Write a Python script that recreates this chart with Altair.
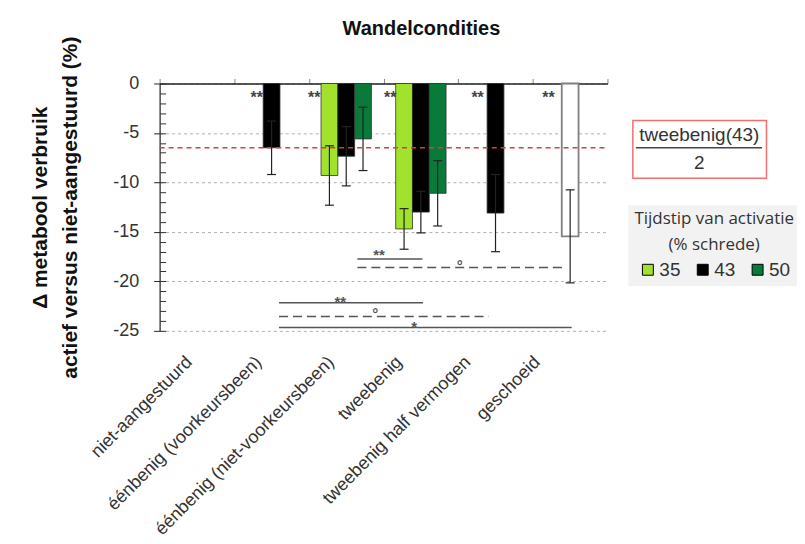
import json
import altair as alt
import pandas as pd

# ---------------- data ----------------
categories = ["niet-aangestuurd", "éénbenig (voorkeursbeen)", "éénbenig (niet-voorkeursbeen)",
              "tweebenig", "tweebenig half vermogen", "geschoeid"]
# where each category label is anchored along the x axis (as in the reference layout)
label_pos = [0.31, 1.24, 2.21, 3.12, 4.04, 4.97]
series_names = ["35", "43", "50"]
series_colors = ["#a3e22c", "#000000", "#0a7a3a"]

bar_cat = [1, 2, 2, 2, 3, 3, 3, 4]
bar_series = ["43", "35", "43", "50", "35", "43", "50", "43"]
bar_value = [-6.5, -9.3, -7.35, -5.6, -14.7, -13.0, -11.1, -13.1]
bar_error = [2.7, 3.0, 3.0, 3.2, 2.05, 2.1, 3.3, 3.9]

shod_cat = [5]
shod_value = [-15.45]
shod_error = [4.7]

star_x = [1.30, 2.07, 3.09, 4.26, 5.21]
star_y = [-1.0, -1.0, -1.0, -1.0, -1.0]
star_text = ["**", "**", "**", "**", "**"]

sig_x1 = [2.65, 2.65, 1.60, 1.60, 1.60]
sig_x2 = [3.52, 5.40, 3.53, 4.41, 5.52]
sig_y = [-17.75, -18.6, -22.15, -23.55, -24.65]
sig_dashed = [False, True, False, True, False]
sig_label = ["**", "°", "**", "°", "*"]
sig_label_x = [2.94, 4.02, 2.42, 2.89, 3.41]
sig_label_y = [-16.9, -18.0, -21.7, -22.9, -24.2]

ref_value = bar_value[5] / 2  # tweebenig(43) / 2

box_x = [6.34, 8.13]
box_y = [-3.73, -9.58]
frac_x = 7.23
frac_num = "tweebenig(43)"
frac_num_y = -5.2
frac_den = "2"
frac_den_y = -8.06
frac_line_x = [6.38, 8.07]

# ---------------- frames ----------------
OFF = {"35": -0.225, "43": 0.0, "50": 0.225}
W = 0.225
CAP = 0.06

bars = pd.DataFrame({"cat": bar_cat, "series": bar_series, "value": bar_value, "err": bar_error})
bars["xc"] = bars["cat"] + 0.5 + bars["series"].map(OFF)
bars["x0"] = bars["xc"] - W / 2
bars["x1"] = bars["xc"] + W / 2
bars["lo"] = bars["value"] - bars["err"]
bars["hi"] = bars["value"] + bars["err"]

shod = pd.DataFrame({"cat": shod_cat, "value": shod_value, "err": shod_error})
shod["xc"] = shod["cat"] + 0.5
shod["x0"] = shod["xc"] - W / 2
shod["x1"] = shod["xc"] + W / 2
shod["lo"] = shod["value"] - shod["err"]
shod["hi"] = shod["value"] + shod["err"]

err = pd.concat([bars[["xc", "lo", "hi"]], shod[["xc", "lo", "hi"]]], ignore_index=True)
caps = pd.concat([
    pd.DataFrame({"c0": err["xc"] - CAP, "c1": err["xc"] + CAP, "y": err["lo"]}),
    pd.DataFrame({"c0": err["xc"] - CAP, "c1": err["xc"] + CAP, "y": err["hi"]}),
], ignore_index=True)

stars = pd.DataFrame({"x": star_x, "y": star_y, "t": star_text})
sig = pd.DataFrame({"x1": sig_x1, "x2": sig_x2, "y": sig_y, "dashed": sig_dashed})
sig_lab = pd.DataFrame({"x": sig_label_x, "y": sig_label_y, "t": sig_label})
refl = pd.DataFrame({"x0": [0], "x1": [len(categories)], "y": [ref_value]})
box = pd.DataFrame({"x0": [box_x[0]], "x1": [box_x[1]], "y0": [box_y[0]], "y1": [box_y[1]]})
frac = pd.DataFrame({"x": [frac_x, frac_x], "y": [frac_num_y, frac_den_y], "t": [frac_num, frac_den]})
fracl = pd.DataFrame({"x0": [frac_line_x[0]], "x1": [frac_line_x[1]], "y": [ref_value]})

FONT = "Liberation Sans"
xscale = alt.Scale(domain=[0, len(categories)], nice=False, zero=False)
yscale = alt.Scale(domain=[-25, 0], nice=False, zero=False)
NOAX = None

label_expr = "%s[indexof(%s, datum.value)]" % (json.dumps(categories, ensure_ascii=False),
                                               json.dumps(label_pos))

# bars (main axes)
bar_layer = alt.Chart(bars).mark_bar(stroke="#333333", strokeWidth=0.8).encode(
    x=alt.X("x0:Q", scale=xscale, axis=alt.Axis(
        orient="bottom", values=label_pos, labelExpr=label_expr,
        domain=False, ticks=False, grid=False, labelAngle=-45, labelFont=FONT, labelFontSize=18,
        labelColor="#333333", labelPadding=22, labelLimit=0, labelOverlap=False, title=None)),
    x2="x1:Q",
    y=alt.Y("value:Q", scale=yscale, axis=alt.Axis(
        values=[0, -5, -10, -15, -20, -25], labelExpr="toString(datum.value)",
        grid=True, gridDash=[3, 3], gridColor="#b0b0b0", gridWidth=1,
        domainColor="#222222", domainWidth=1.2, tickColor="#222222", tickSize=6,
        labelFont=FONT, labelFontSize=18, labelColor="#333333", labelPadding=15,
        title=["\u0394 metabool verbruik", "actief versus niet-aangestuurd (%)"],
        titleFont=FONT, titleFontSize=21, titleFontWeight="bold", titleColor="#111111",
        titleLineHeight=30, titlePadding=32)),
    y2=alt.datum(0),
    color=alt.Color("series:N", scale=alt.Scale(domain=series_names, range=series_colors),
                    legend=alt.Legend(
                        title=["Tijdstip van activatie", "(% schrede)"], orient="none",
                        legendX=470, legendY=122, direction="horizontal",
                        titleFont="Open Sans", titleFontSize=17, titleFontWeight="normal",
                        titleColor="#333333", titleAnchor="middle", titleAlign="center",
                        titleLineHeight=26, titlePadding=6,
                        labelFont=FONT, labelFontSize=19, labelColor="#333333", labelOffset=2,
                        symbolType="square", symbolSize=120, symbolStrokeColor="#000000",
                        symbolStrokeWidth=1, columnPadding=12,
                        fillColor="#f2f2f2", padding=6)),
)

shod_layer = alt.Chart(shod).mark_bar(fill="white", stroke="#808080", strokeWidth=1.8).encode(
    x=alt.X("x0:Q", scale=xscale, axis=NOAX), x2="x1:Q",
    y=alt.Y("value:Q", scale=yscale, axis=NOAX), y2=alt.datum(0),
)

# red reference line (carries the top x axis and the minor y ticks)
ref_layer = alt.Chart(refl).mark_rule(color="#e03a3a", strokeDash=[5, 4], strokeWidth=1.5).encode(
    x=alt.X("x0:Q", scale=xscale, axis=alt.Axis(
        orient="top", values=list(range(len(categories) + 1)), labels=False, grid=False,
        domainColor="#222222", domainWidth=1.5, tickColor="#888888", tickSize=5, title=None)),
    x2="x1:Q",
    y=alt.Y("y:Q", scale=yscale, axis=alt.Axis(
        orient="left", values=list(range(-25, 1)), labels=False, grid=False, domain=False,
        tickColor="#333333", tickSize=6, offset=-6, title=None)),
)

err_layer = alt.Chart(err).mark_rule(color="#222222", strokeWidth=1.2).encode(
    x=alt.X("xc:Q", scale=xscale, axis=NOAX),
    y=alt.Y("lo:Q", scale=yscale, axis=NOAX), y2="hi:Q",
)
cap_layer = alt.Chart(caps).mark_rule(color="#222222", strokeWidth=1.2).encode(
    x=alt.X("c0:Q", scale=xscale, axis=NOAX), x2="c1:Q",
    y=alt.Y("y:Q", scale=yscale, axis=NOAX),
)

star_layer = alt.Chart(stars).mark_text(font=FONT, fontSize=16, fontWeight="bold", color="#444444",
                                        baseline="middle", dy=5).encode(
    x=alt.X("x:Q", scale=xscale, axis=NOAX), y=alt.Y("y:Q", scale=yscale, axis=NOAX), text="t:N")

sig_solid = alt.Chart(sig[~sig["dashed"]]).mark_rule(color="#555555", strokeWidth=1.5).encode(
    x=alt.X("x1:Q", scale=xscale, axis=NOAX), x2="x2:Q",
    y=alt.Y("y:Q", scale=yscale, axis=NOAX))
sig_dash = alt.Chart(sig[sig["dashed"]]).mark_rule(color="#555555", strokeWidth=1.5,
                                                   strokeDash=[9, 5]).encode(
    x=alt.X("x1:Q", scale=xscale, axis=NOAX), x2="x2:Q",
    y=alt.Y("y:Q", scale=yscale, axis=NOAX))
sig_text = alt.Chart(sig_lab).mark_text(font=FONT, fontSize=15, fontWeight="bold", color="#555555",
                                        baseline="middle", dy=4).encode(
    x=alt.X("x:Q", scale=xscale, axis=NOAX), y=alt.Y("y:Q", scale=yscale, axis=NOAX), text="t:N")

box_layer = alt.Chart(box).mark_rect(fill="white", stroke="#f07070", strokeWidth=1.5).encode(
    x=alt.X("x0:Q", scale=xscale, axis=NOAX), x2="x1:Q",
    y=alt.Y("y0:Q", scale=yscale, axis=NOAX), y2="y1:Q")
frac_line = alt.Chart(fracl).mark_rule(color="#444444", strokeWidth=1.5).encode(
    x=alt.X("x0:Q", scale=xscale, axis=NOAX), x2="x1:Q",
    y=alt.Y("y:Q", scale=yscale, axis=NOAX))
frac_text = alt.Chart(frac).mark_text(font=FONT, fontSize=19, color="#333333", baseline="middle").encode(
    x=alt.X("x:Q", scale=xscale, axis=NOAX), y=alt.Y("y:Q", scale=yscale, axis=NOAX), text="t:N")

chart = alt.layer(
    bar_layer, shod_layer, ref_layer, err_layer, cap_layer, star_layer,
    sig_solid, sig_dash, sig_text, box_layer, frac_line, frac_text,
).resolve_axis(x="independent", y="independent").properties(
    width=449, height=248,
    title=alt.TitleParams("Wandelcondities", font=FONT, fontSize=20, fontWeight="bold",
                          color="#111111", anchor="middle", dx=38, offset=-19,
                          frame="group", baseline="alphabetic"),
    autosize=alt.AutoSizeParams(type="none"),
    padding={"left": 152, "top": 75, "right": 190, "bottom": 211},
).configure_view(stroke=None)

chart.save("out.html", embed_options={"renderer": "svg", "actions": False})
